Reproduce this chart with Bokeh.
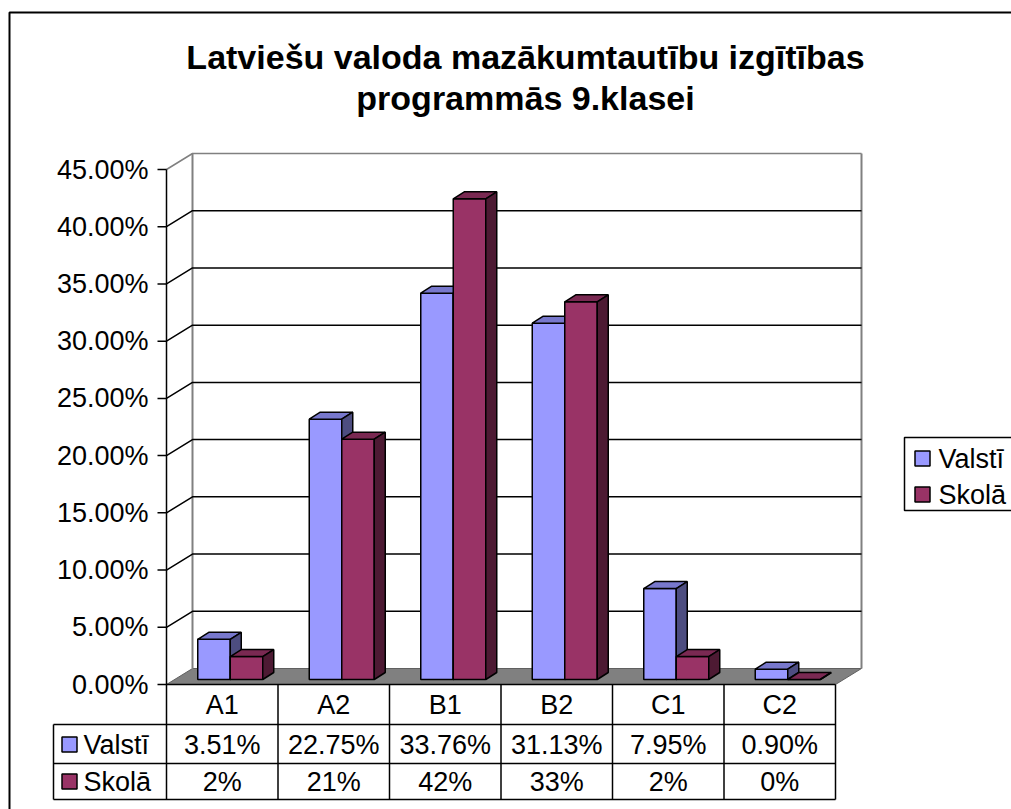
from bokeh.plotting import figure
from bokeh.models import Range1d
from bokeh.core.properties import value
from bokeh.embed import file_html
from bokeh.resources import INLINE

# ---------------- data ----------------
title_lines = ["Latviešu valoda mazākumtautību izgītības", "programmās 9.klasei"]
categories = ["A1", "A2", "B1", "B2", "C1", "C2"]
series_names = ["Valstī", "Skolā"]
valsti = [0.0351, 0.2275, 0.3376, 0.3113, 0.0795, 0.0090]
skola = [0.02, 0.21, 0.42, 0.33, 0.02, 0.0]
valsti_labels = ["3.51%", "22.75%", "33.76%", "31.13%", "7.95%", "0.90%"]
skola_labels = ["2%", "21%", "42%", "33%", "2%", "0%"]
y_ticks = [0.0, 0.05, 0.10, 0.15, 0.20, 0.25, 0.30, 0.35, 0.40, 0.45]
y_tick_labels = ["0.00%", "5.00%", "10.00%", "15.00%", "20.00%", "25.00%",
                 "30.00%", "35.00%", "40.00%", "45.00%"]

# ---------------- layout constants (page pixels) ----------------
W, H = 1011, 809
X0, CW = 166.0, 111.5          # front-left corner of plot, px per category
Y0, PPU = 684.0, 515.0 / 0.45  # baseline px, px per unit of value


def ux(px):
    return (px - X0) / CW


def uy(py):
    return (Y0 - py) / PPU


DX, DY = 26 / CW, 16 / PPU      # wall depth
BX, BY = 8 / CW, 5 / PPU        # bar plane shift
BW = 32.5 / CW                  # bar width
BDX, BDY = 11 / CW, 7 / PPU     # bar depth
NCAT = len(categories)
YMAX = y_ticks[-1]

FONT = value("Liberation Sans")
FS = "27px"

p = figure(width=W, height=H, output_backend="svg", toolbar_location=None,
           x_range=Range1d(ux(0), ux(W)), y_range=Range1d(uy(H), uy(0)),
           x_axis_type=None, y_axis_type=None, min_border=0)
p.outline_line_color = None
p.grid.visible = False
p.background_fill_color = "white"
p.border_fill_color = "white"

# outer chart border (left and top visible)
p.line([ux(9), ux(9), ux(1030)], [uy(830), uy(12), uy(12)], line_color="black", line_width=2)

# floor
p.patch([0, DX, NCAT + DX, NCAT], [0, DY, DY, 0], fill_color="#808080",
        line_color="#606060", line_width=1)

# back wall edges
p.line([DX, DX], [DY, YMAX + DY], line_color="#808080", line_width=2)
p.line([NCAT + DX, NCAT + DX], [DY, YMAX + DY], line_color="#808080", line_width=2)

# gridlines: diagonal from front axis and horizontal across back wall
for t in y_ticks[1:]:
    col = "#808080" if t == YMAX else "black"
    p.line([0, DX, NCAT + DX], [t, t + DY, t + DY], line_color=col, line_width=1.5)

# front axis and ticks
p.line([0, 0], [0, YMAX], line_color="black", line_width=1.5)
p.segment(x0=[ux(157)] * len(y_ticks), y0=y_ticks, x1=[0] * len(y_ticks), y1=y_ticks,
          line_color="black", line_width=1.5)
p.text(x=[ux(148)] * len(y_ticks), y=y_ticks, text=y_tick_labels, text_align="right",
       text_baseline="middle", text_font=FONT, text_font_size=FS, text_color="black")

# bars
front_fill = ["#9999FF", "#993366"]
top_fill = ["#7878CC", "#7A2952"]
side_fill = ["#4D4D80", "#4D1A33"]
series = [valsti, skola]
for i in range(NCAT):
    for s in range(2):
        v = series[s][i]
        xl = i + (1 - 2 * BW) / 2 + BX + s * BW
        xr = xl + BW
        b = BY
        t = BY + v
        p.patch([xl, xr, xr, xl], [b, b, t, t], fill_color=front_fill[s],
                line_color="black", line_width=1.5)
        p.patch([xl, xr, xr + BDX, xl + BDX], [t, t, t + BDY, t + BDY],
                fill_color=top_fill[s], line_color="black", line_width=1.5)
        p.patch([xr, xr + BDX, xr + BDX, xr], [b, b + BDY, t + BDY, t],
                fill_color=side_fill[s], line_color="black", line_width=1.5)

# data table
row_top = [uy(684), uy(724), uy(763)]
row_bot = uy(799)
leg_left = ux(53)
p.line([0, NCAT], [0, 0], line_color="black", line_width=1.5)
p.line([leg_left, NCAT], [row_top[1], row_top[1]], line_color="black", line_width=1.5)
p.line([leg_left, NCAT], [row_top[2], row_top[2]], line_color="black", line_width=1.5)
p.line([leg_left, NCAT], [row_bot, row_bot], line_color="black", line_width=1.5)
p.line([leg_left, leg_left], [row_top[1], row_bot], line_color="black", line_width=1.5)
for c in range(NCAT + 1):
    p.line([c, c], [0, row_bot], line_color="black", line_width=1.5)

cx = [i + 0.5 for i in range(NCAT)]
p.text(x=cx, y=[uy(704)] * NCAT, text=categories, text_align="center", text_baseline="middle",
       text_font=FONT, text_font_size=FS, text_color="black")
p.text(x=cx, y=[uy(744)] * NCAT, text=valsti_labels, text_align="center", text_baseline="middle",
       text_font=FONT, text_font_size=FS, text_color="black")
p.text(x=cx, y=[uy(781)] * NCAT, text=skola_labels, text_align="center", text_baseline="middle",
       text_font=FONT, text_font_size=FS, text_color="black")

# table legend keys
p.rect(x=[ux(69), ux(69)], y=[uy(744), uy(781)], width=15, height=15,
       width_units="screen", height_units="screen", fill_color=front_fill,
       line_color="black", line_width=1.5)
p.text(x=[ux(83), ux(83)], y=[uy(744), uy(781)], text=series_names, text_align="left",
       text_baseline="middle", text_font=FONT, text_font_size=FS, text_color="black")

# right legend
p.line([ux(1030), ux(904), ux(904), ux(1030)], [uy(437), uy(437), uy(510), uy(510)],
       line_color="black", line_width=1.5)
p.rect(x=[ux(922), ux(922)], y=[uy(458), uy(494)], width=15, height=15,
       width_units="screen", height_units="screen", fill_color=front_fill,
       line_color="black", line_width=1.5)
p.text(x=[ux(938), ux(938)], y=[uy(458), uy(494)], text=series_names, text_align="left",
       text_baseline="middle", text_font=FONT, text_font_size=FS, text_color="black")

# title
p.text(x=[ux(525), ux(525)], y=[uy(56), uy(97)], text=title_lines, text_align="center",
       text_baseline="middle", text_font=FONT, text_font_size="34px", text_font_style="bold",
       text_color="black")

open("out.html", "w").write(file_html(p, INLINE))
